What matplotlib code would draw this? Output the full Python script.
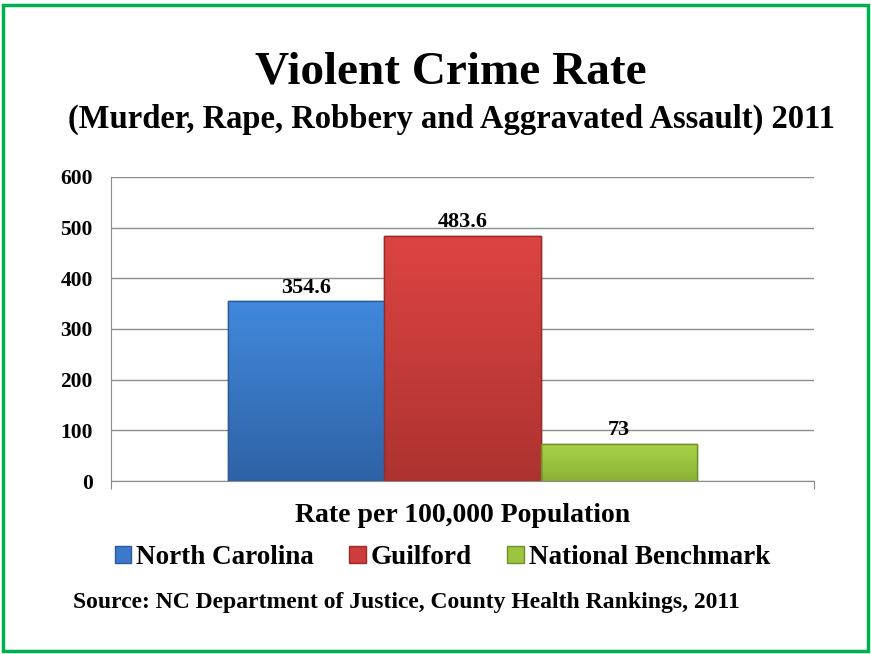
import numpy as np
import matplotlib.pyplot as plt
from matplotlib.patches import Rectangle
from matplotlib.colors import LinearSegmentedColormap

# data
series = ["North Carolina", "Guilford", "National Benchmark"]
values = [354.6, 483.6, 73]
value_labels = ["354.6", "483.6", "73"]
colors = ["#3b7acb", "#cc3d3b", "#9cc43e"]
tops = ["#4189dc", "#dc4442", "#aad247"]
bottoms = ["#2f62a5", "#ad3330", "#8cb236"]
edges = ["#2a5a99", "#992a28", "#6f8f2a"]
yticks = [0, 100, 200, 300, 400, 500, 600]

plt.rcParams['font.family'] = ['Liberation Serif', 'DejaVu Serif']
plt.rcParams['font.weight'] = 'bold'

fig = plt.figure(figsize=(8.71, 6.54), dpi=100)
fig.patches.append(Rectangle((0.004, 0.005), 0.992, 0.988, transform=fig.transFigure,
                             fill=False, edgecolor="#00b050", linewidth=2.5))

ax = fig.add_axes([0.1274, 0.2645, 0.8072, 0.4649])

# ---------------------------------------------------------
# BARS (with a soft vertical gradient)
# ---------------------------------------------------------
xpos = [-1, 0, 1]
handles = []
grad = np.linspace(0, 1, 256).reshape(-1, 1)
for i, (x, v, name) in enumerate(zip(xpos, values, series)):
    b = ax.bar(x, v, width=1.0, color=colors[i], edgecolor=edges[i], linewidth=1,
               label=name, zorder=3)
    handles.append(b)
    cmap = LinearSegmentedColormap.from_list("g%d" % i, [bottoms[i], tops[i]])
    im = ax.imshow(grad, cmap=cmap, aspect='auto', origin='lower',
                   extent=(x - 0.5, x + 0.5, 0, v), zorder=3.5)
    im.set_clip_path(b.patches[0])
    ax.bar(x, v, width=1.0, fill=False, edgecolor=edges[i], linewidth=1, zorder=3.6)
    ax.text(x, v + 7, value_labels[i], ha='center', va='bottom',
            fontsize=16, fontweight='bold', zorder=4)

ax.set_xlim(-2.245, 2.245)
ax.set_ylim(0, 600)
ax.set_yticks(yticks)
ax.set_yticklabels([str(t) for t in yticks], fontsize=15.5, fontweight='bold')
ax.tick_params(axis='y', length=0, pad=13)
ax.set_xticks([-2.245, 2.245])
ax.set_xticklabels([])
ax.tick_params(axis='x', length=6, color="#888888", direction='out')
ax.yaxis.grid(True, color="#8c8c8c", linewidth=1, zorder=0)
for s in ["top", "right"]:
    ax.spines[s].set_visible(False)
ax.spines["left"].set_color("#8c8c8c")
ax.spines["bottom"].set_color("#8c8c8c")

# ---------------------------------------------------------
# TEXTS
# ---------------------------------------------------------
fig.text(0.518, 0.889, "Violent Crime Rate", ha='center', va='center',
         fontsize=34, fontweight='bold')
fig.text(0.518, 0.818, "(Murder, Rape, Robbery and Aggravated Assault) 2011",
         ha='center', va='center', fontsize=23.5, fontweight='bold')
fig.text(0.531, 0.212, "Rate per 100,000 Population", ha='center', va='center',
         fontsize=20, fontweight='bold')
fig.legend(handles=handles, labels=series, loc='center', bbox_to_anchor=(0.508, 0.148),
           ncol=3, frameon=False, fontsize=19.5, handlelength=0.6, handleheight=0.6,
           handletextpad=0.2, columnspacing=1.3)
fig.text(0.084, 0.078, "Source: NC Department of Justice, County Health Rankings, 2011",
         ha='left', va='center', fontsize=17, fontweight='bold')

fig.savefig("out.png", dpi=100)
